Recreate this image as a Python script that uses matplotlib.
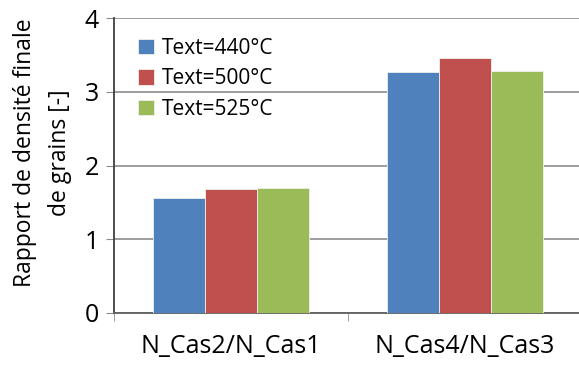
import numpy as np
import matplotlib.pyplot as plt

categories = ['N_Cas2/N_Cas1', 'N_Cas4/N_Cas3']
series = ['Text=440°C', 'Text=500°C', 'Text=525°C']
v440 = [1.56, 3.27]
v500 = [1.68, 3.46]
v525 = [1.70, 3.28]
colors = ['#4F81BD', '#C0504D', '#9BBB59']

plt.rcParams['font.family'] = ['Open Sans', 'DejaVu Sans']

fig = plt.figure(figsize=(5.79, 3.65), dpi=100)
ax = fig.add_axes([114/579, 52/365, 468/579, 295/365])

x = np.arange(len(categories))
w = 0.223
for i, (vals, lab) in enumerate(zip([v440, v500, v525], series)):
    ax.bar(x + (i - 1) * w, vals, w, color=colors[i], label=lab,
           edgecolor='#f0f0f0', linewidth=0.6, zorder=3)

ax.set_xlim(-0.5, 1.5)
ax.set_ylim(0, 4)
ax.set_yticks([0, 1, 2, 3, 4])
ax.yaxis.grid(True, color='#8c8c8c', linewidth=1.2, zorder=0)
ax.set_xticks(x)
ax.set_xticklabels(categories, fontsize=18)
ax.set_xticks([-0.5, 0.5, 1.5], minor=True)
ax.tick_params(axis='x', which='major', length=0, pad=15)
ax.tick_params(axis='x', which='minor', length=6, color='#8c8c8c', direction='out')
ax.tick_params(axis='y', length=6, color='#8c8c8c', labelsize=18, pad=5)
for s in ['top', 'right']:
    ax.spines[s].set_visible(False)
ax.spines['left'].set_color('#404040')
ax.spines['left'].set_linewidth(1.3)
ax.spines['bottom'].set_color('#606060')
ax.spines['bottom'].set_linewidth(1.3)

# y label as two centred lines
fig.text(25/579, 1 - 153/365, 'Rapport de densité finale', rotation=90,
         ha='center', va='center', fontsize=16.5)
fig.text(60/579, 1 - 153/365, 'de grains [-]', rotation=90,
         ha='center', va='center', fontsize=16.5)

ax.legend(loc='upper left', bbox_to_anchor=(0.025, 0.975), frameon=False,
          fontsize=15, handlelength=0.75, handleheight=0.75, handletextpad=0.4,
          labelspacing=0.45, borderaxespad=0.2)

fig.savefig('out.png', dpi=100)
